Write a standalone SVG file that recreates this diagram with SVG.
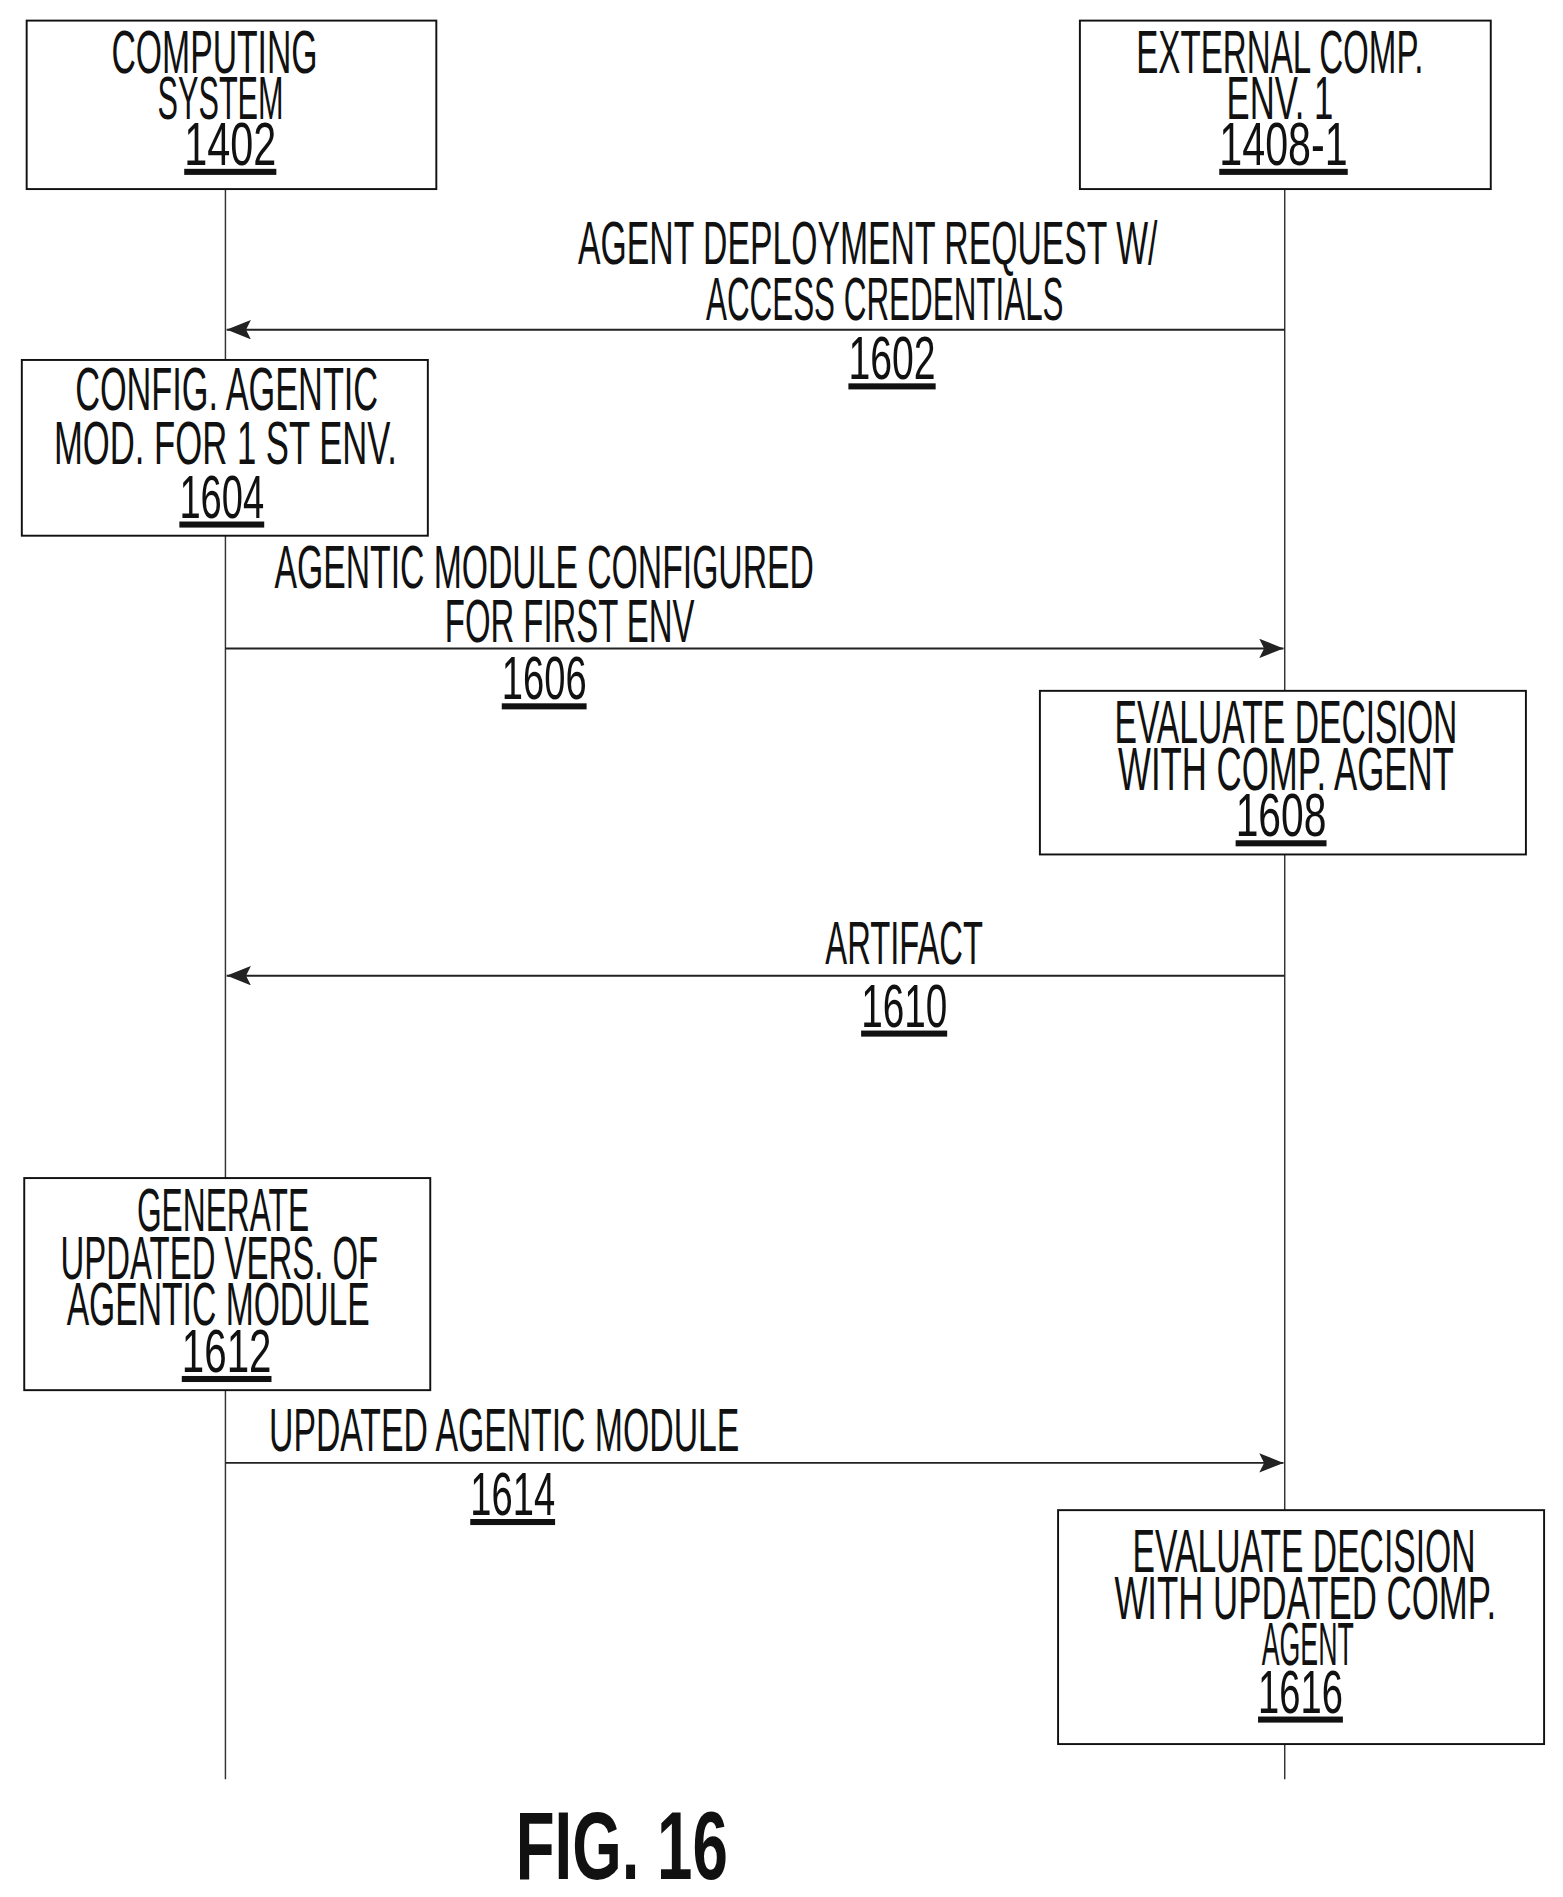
<svg xmlns="http://www.w3.org/2000/svg" width="1563" height="1897" viewBox="0 0 1563 1897">
<style>
text{font-family:"Liberation Sans",Arial,sans-serif;font-size:50px;fill:#111;text-anchor:middle}
.n{text-decoration:underline}
.box{fill:#fff;stroke:#111;stroke-width:1.6}
.life{stroke:#333;stroke-width:1.2;fill:none}
.msg{stroke:#222;stroke-width:1.6;fill:none}
.fig{font-size:80px;font-weight:bold}
</style>
<defs>
<marker id="ah" markerUnits="userSpaceOnUse" markerWidth="20" markerHeight="16" refX="20" refY="8" orient="auto">
<path d="M0,0 L20,8 L0,16 L4,8 Z" fill="#222"/>
</marker>
</defs>
<rect width="1563" height="1897" fill="#fff"/>
<g transform="scale(1.212)">
<g id="lifelines">
<line class="life" x1="186" y1="156" x2="186" y2="1468"/>
<line class="life" x1="1060" y1="156" x2="1060" y2="1468"/>
</g>
<g id="connectors">
<line class="msg" x1="1060" y1="272" x2="187" y2="272" marker-end="url(#ah)"/>
<line class="msg" x1="186" y1="535" x2="1059" y2="535" marker-end="url(#ah)"/>
<line class="msg" x1="1060" y1="805" x2="187" y2="805" marker-end="url(#ah)"/>
<line class="msg" x1="186" y1="1207" x2="1059" y2="1207" marker-end="url(#ah)"/>
<text x="716" y="218" textLength="478" lengthAdjust="spacingAndGlyphs">AGENT DEPLOYMENT REQUEST W/</text>
<text x="730" y="264" textLength="295" lengthAdjust="spacingAndGlyphs">ACCESS CREDENTIALS</text>
<text class="n" x="736" y="313" textLength="72" lengthAdjust="spacingAndGlyphs">1602</text>
<text x="449" y="485" textLength="445" lengthAdjust="spacingAndGlyphs">AGENTIC MODULE CONFIGURED</text>
<text x="470" y="530" textLength="206" lengthAdjust="spacingAndGlyphs">FOR FIRST ENV</text>
<text class="n" x="449" y="577" textLength="70" lengthAdjust="spacingAndGlyphs">1606</text>
<text x="746" y="795" textLength="130" lengthAdjust="spacingAndGlyphs">ARTIFACT</text>
<text class="n" x="746" y="847" textLength="71" lengthAdjust="spacingAndGlyphs">1610</text>
<text x="416" y="1197" textLength="388" lengthAdjust="spacingAndGlyphs">UPDATED AGENTIC MODULE</text>
<text class="n" x="423" y="1250" textLength="70" lengthAdjust="spacingAndGlyphs">1614</text>
</g>
<g id="n1402">
<rect class="box" x="22" y="17" width="338" height="139"/>
<text x="177" y="60" textLength="170" lengthAdjust="spacingAndGlyphs">COMPUTING</text>
<text x="182" y="98" textLength="104" lengthAdjust="spacingAndGlyphs">SYSTEM</text>
<text class="n" x="190" y="136" textLength="76" lengthAdjust="spacingAndGlyphs">1402</text>
</g>
<g id="n1408">
<rect class="box" x="891" y="17" width="339" height="139"/>
<text x="1056" y="60" textLength="237" lengthAdjust="spacingAndGlyphs">EXTERNAL COMP.</text>
<text x="1056" y="98" textLength="88" lengthAdjust="spacingAndGlyphs">ENV. 1</text>
<text class="n" x="1059" y="136" textLength="106" lengthAdjust="spacingAndGlyphs">1408-1</text>
</g>
<g id="n1604">
<rect class="box" x="18" y="297" width="335" height="145"/>
<text x="187" y="338" textLength="250" lengthAdjust="spacingAndGlyphs">CONFIG. AGENTIC</text>
<text x="186" y="383" textLength="283" lengthAdjust="spacingAndGlyphs">MOD. FOR 1 ST ENV.</text>
<text class="n" x="183" y="427" textLength="70" lengthAdjust="spacingAndGlyphs">1604</text>
</g>
<g id="n1608">
<rect class="box" x="858" y="570" width="401" height="135"/>
<text x="1061" y="613" textLength="283" lengthAdjust="spacingAndGlyphs">EVALUATE DECISION</text>
<text x="1061" y="652" textLength="277" lengthAdjust="spacingAndGlyphs">WITH COMP. AGENT</text>
<text class="n" x="1057" y="690" textLength="75" lengthAdjust="spacingAndGlyphs">1608</text>
</g>
<g id="n1612">
<rect class="box" x="20" y="972" width="335" height="175"/>
<text x="184" y="1016" textLength="142" lengthAdjust="spacingAndGlyphs">GENERATE</text>
<text x="181" y="1055" textLength="262" lengthAdjust="spacingAndGlyphs">UPDATED VERS. OF</text>
<text x="180" y="1093" textLength="250" lengthAdjust="spacingAndGlyphs">AGENTIC MODULE</text>
<text class="n" x="187" y="1132" textLength="74" lengthAdjust="spacingAndGlyphs">1612</text>
</g>
<g id="n1616">
<rect class="box" x="873" y="1246" width="401" height="193"/>
<text x="1076" y="1297" textLength="283" lengthAdjust="spacingAndGlyphs">EVALUATE DECISION</text>
<text x="1077" y="1336" textLength="315" lengthAdjust="spacingAndGlyphs">WITH UPDATED COMP.</text>
<text x="1079" y="1374" textLength="76" lengthAdjust="spacingAndGlyphs">AGENT</text>
<text class="n" x="1073" y="1413" textLength="70" lengthAdjust="spacingAndGlyphs">1616</text>
</g>
<text class="fig" x="513" y="1550" textLength="175" lengthAdjust="spacingAndGlyphs">FIG. 16</text>
</g>
</svg>
